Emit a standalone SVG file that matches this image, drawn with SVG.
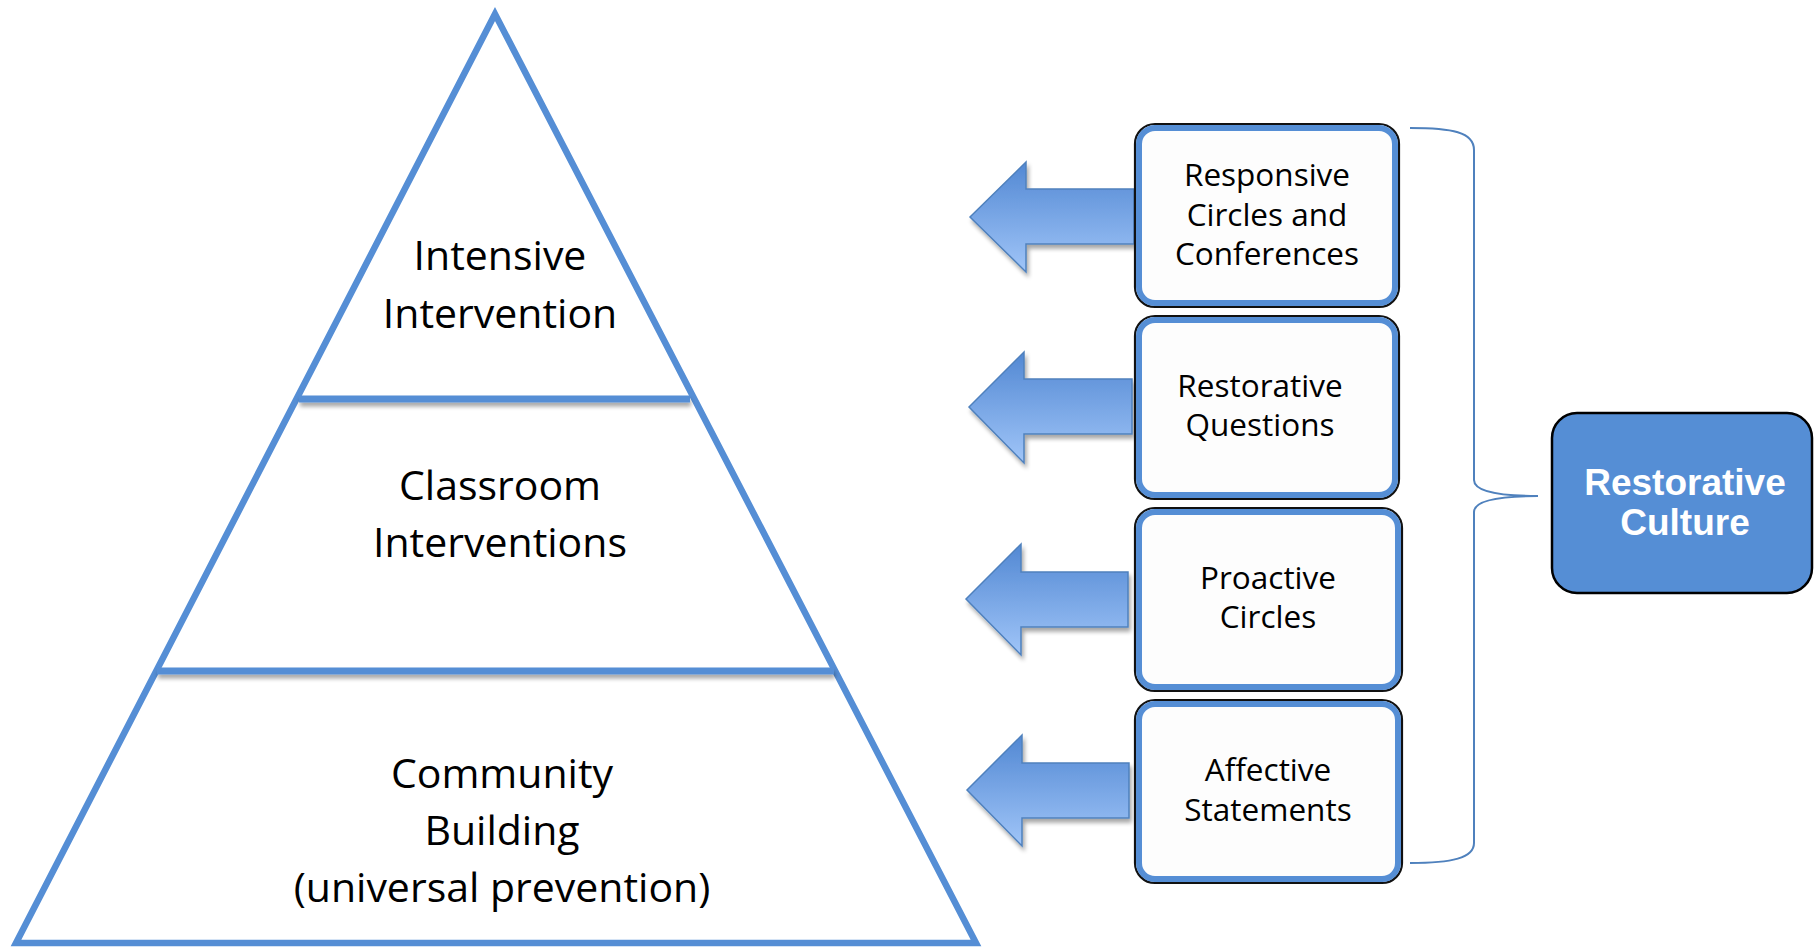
<svg xmlns="http://www.w3.org/2000/svg" width="1814" height="947" viewBox="0 0 1814 947">
<defs>
<style>
.pyr{fill:none;stroke:#558ed5;stroke-width:6.5;stroke-linejoin:miter}
.div{fill:#558ed5}
.pt{font-family:"Open Sans",Lato,sans-serif;font-size:41px;fill:#000;text-anchor:middle}
.bt{font-family:"Open Sans",Lato,sans-serif;font-size:31.5px;fill:#000;text-anchor:middle}
.bo{fill:none;stroke:#111;stroke-width:2.2}
.bi{fill:#fdfdfd;stroke:#558ed5;stroke-width:6}
.arr{fill:url(#ag);stroke:#4f81bd;stroke-width:1.5;filter:url(#sh)}
.brace{fill:none;stroke:#4f81bd;stroke-width:2}
.ct{font-family:"Liberation Sans",Arial,sans-serif;font-weight:bold;font-size:37px;fill:#fff;text-anchor:middle}
</style>
<linearGradient id="ag" x1="0" y1="0" x2="0" y2="1">
<stop offset="0" stop-color="#5288d3"/>
<stop offset="1" stop-color="#a0c5f8"/>
</linearGradient>
<filter id="sh" x="-20%" y="-20%" width="140%" height="150%">
<feGaussianBlur in="SourceAlpha" stdDeviation="2"/>
<feOffset dx="2" dy="4" result="b"/>
<feComponentTransfer><feFuncA type="linear" slope="0.35"/></feComponentTransfer>
<feMerge><feMergeNode/><feMergeNode in="SourceGraphic"/></feMerge>
</filter>
<filter id="dsh" x="-5%" y="-100%" width="110%" height="400%">
<feGaussianBlur in="SourceAlpha" stdDeviation="2"/>
<feOffset dx="1" dy="4"/>
<feComponentTransfer><feFuncA type="linear" slope="0.35"/></feComponentTransfer>
<feMerge><feMergeNode/><feMergeNode in="SourceGraphic"/></feMerge>
</filter>
</defs>
<rect width="1814" height="947" fill="#fff"/>

<g id="pyramid">
<polygon class="pyr" points="495,14 16,943 976,943"/>
<rect class="div" x="299" y="395.5" width="391" height="7" filter="url(#dsh)"/>
<rect class="div" x="157" y="667.5" width="677" height="7" filter="url(#dsh)"/>
</g>
<g id="tier-intensive">
<text class="pt" x="500" y="270">Intensive</text>
<text class="pt" x="500" y="328">Intervention</text>
</g>
<g id="tier-classroom">
<text class="pt" x="500" y="500">Classroom</text>
<text class="pt" x="500" y="557">Interventions</text>
</g>
<g id="tier-community">
<text class="pt" x="502" y="788">Community</text>
<text class="pt" x="502" y="845">Building</text>
<text class="pt" x="502" y="902">(universal prevention)</text>
</g>

<g id="connectors">
<polygon class="arr" points="970,217 1026,162 1026,189 1134,189 1134,244 1026,244 1026,272"/>
<polygon class="arr" points="969,407 1024,352 1024,379 1132,379 1132,434 1024,434 1024,463"/>
<polygon class="arr" points="966,599 1021,544 1021,572 1128,572 1128,627 1021,627 1021,655"/>
<polygon class="arr" points="967,790 1022,735 1022,763 1129,763 1129,818 1022,818 1022,846"/>
<path class="brace" d="M1410,128 C1452,128 1474,132 1474,150 L1474,480 C1474,492 1500,496 1538,496 C1500,496 1474,500 1474,512 L1474,843 C1474,858 1452,863 1410,863"/>
</g>

<g id="box-responsive">
<rect class="bo" x="1135" y="124" width="264" height="183" rx="20"/>
<rect class="bi" x="1139" y="128" width="256" height="175" rx="16"/>
<text class="bt" x="1267" y="186">Responsive</text>
<text class="bt" x="1267" y="226">Circles and</text>
<text class="bt" x="1267" y="265">Conferences</text>
</g>
<g id="box-questions">
<rect class="bo" x="1135" y="316" width="264" height="183" rx="20"/>
<rect class="bi" x="1139" y="320" width="256" height="175" rx="16"/>
<text class="bt" x="1260" y="397">Restorative</text>
<text class="bt" x="1260" y="436">Questions</text>
</g>
<g id="box-proactive">
<rect class="bo" x="1135" y="508" width="267" height="183" rx="20"/>
<rect class="bi" x="1139" y="512" width="259" height="175" rx="16"/>
<text class="bt" x="1268" y="589">Proactive</text>
<text class="bt" x="1268" y="628">Circles</text>
</g>
<g id="box-affective">
<rect class="bo" x="1135" y="700" width="267" height="183" rx="20"/>
<rect class="bi" x="1139" y="704" width="259" height="175" rx="16"/>
<text class="bt" x="1268" y="781">Affective</text>
<text class="bt" x="1268" y="821">Statements</text>
</g>

<g id="restorative-culture">
<rect x="1552" y="413" width="260" height="180" rx="25" fill="#558ed5" stroke="#000" stroke-width="2.5"/>
<text class="ct" x="1685" y="495">Restorative</text>
<text class="ct" x="1685" y="535">Culture</text>
</g>
</svg>
